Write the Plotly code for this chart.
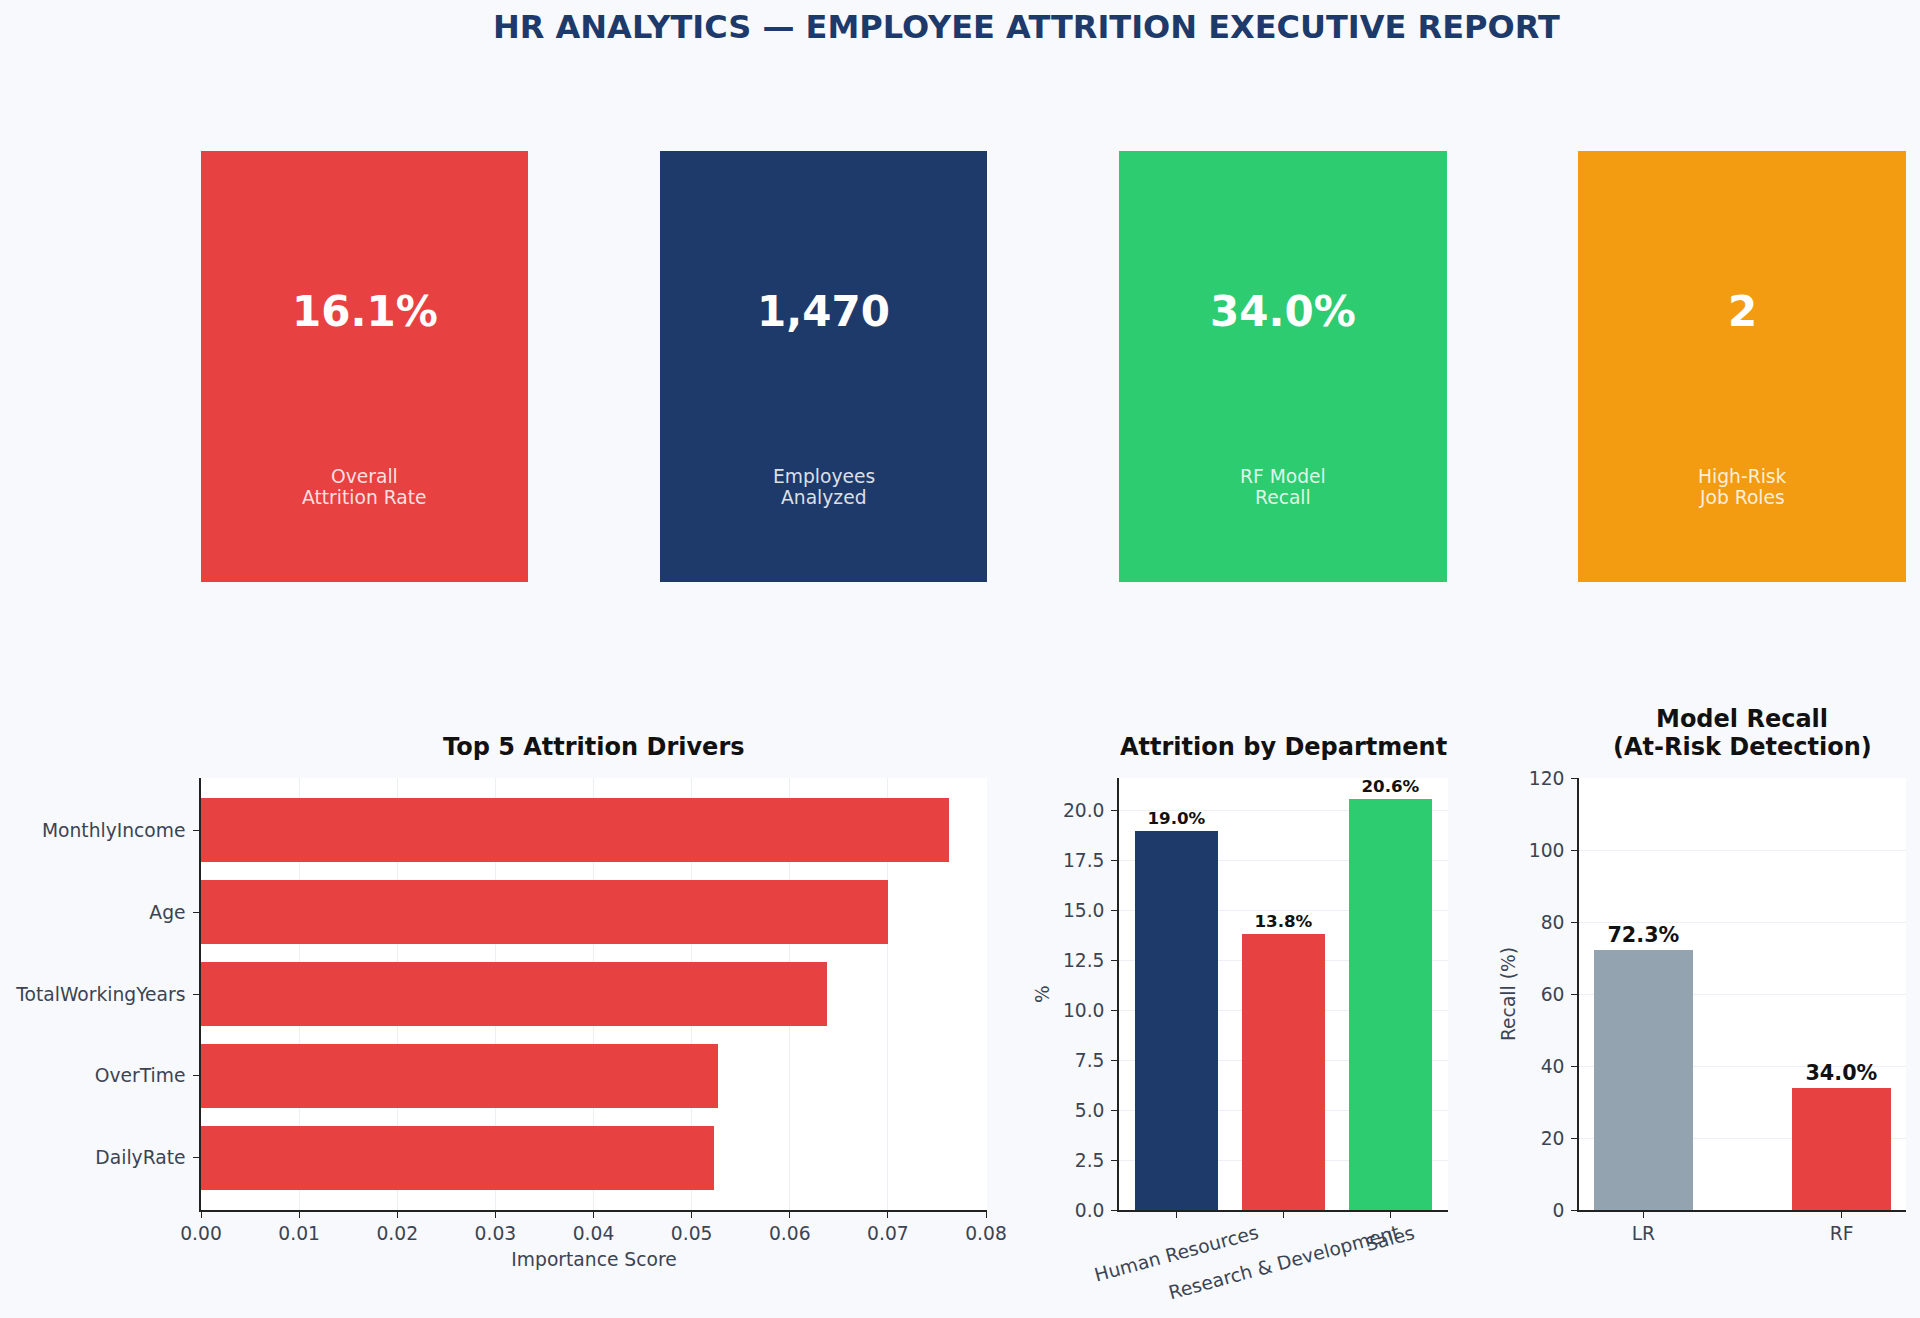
import plotly.graph_objects as go

W, H = 1920, 1318

# KPI cards
kpi_values = ["16.1%", "1,470", "34.0%", "2"]
kpi_labels = [("Overall", "Attrition Rate"), ("Employees", "Analyzed"),
              ("RF Model", "Recall"), ("High-Risk", "Job Roles")]
kpi_colors = ["#E84142", "#1E3A6B", "#2ECC71", "#F39C12"]

# top drivers (feature importance)
drivers = ["MonthlyIncome", "Age", "TotalWorkingYears", "OverTime", "DailyRate"]
importance = [0.0762, 0.0700, 0.0638, 0.0527, 0.0523]

# attrition by department
departments = ["Human Resources", "Research & Development", "Sales"]
dept_attrition = [19.0, 13.8, 20.6]
dept_colors = ["#1E3A6B", "#E84142", "#2ECC71"]

# model recall
models = ["LR", "RF"]
recall = [72.3, 34.0]
model_colors = ["#94A3B0", "#E84142"]

FONT = "DejaVu Sans"
TICK = dict(family=FONT, size=18.7, color="#3B4453")
GRID = "#ECEFF3"
AXIS = "#222222"


def xdom(a, b):
    return [a / W, b / W]


def ydom(top, bottom):
    return [1 - bottom / H, 1 - top / H]


card_x = [(201, 528), (660, 987), (1119, 1447), (1578, 1906)]
card_y = (151, 582)

fig = go.Figure()

fig.add_trace(go.Bar(
    x=importance, y=drivers, orientation="h", width=0.78,
    marker=dict(color="#E84142", line=dict(width=0)),
    xaxis="x", yaxis="y", showlegend=False,
))
fig.add_trace(go.Bar(
    x=departments, y=dept_attrition, width=0.78,
    marker=dict(color=dept_colors, line=dict(width=0)),
    text=[f"{v:.1f}%" for v in dept_attrition], textposition="outside",
    textfont=dict(family=FONT, size=16.7, color="#111111", weight="bold"),
    constraintext="none", cliponaxis=False,
    xaxis="x2", yaxis="y2", showlegend=False,
))
fig.add_trace(go.Bar(
    x=models, y=recall, width=0.5,
    marker=dict(color=model_colors, line=dict(width=0)),
    text=[f"{v:.1f}%" for v in recall], textposition="outside",
    textfont=dict(family=FONT, size=20.7, color="#111111", weight="bold"),
    constraintext="none", cliponaxis=False,
    xaxis="x3", yaxis="y3", showlegend=False,
))

axis_common = dict(
    showline=True, linecolor=AXIS, linewidth=1.5, ticks="outside", ticklen=6,
    tickcolor=AXIS, tickfont=TICK, zeroline=False, automargin=False,
)
TITLE_FONT = dict(family=FONT, size=18.7, color="#3B4453")

fig.update_layout(
    width=W, height=H, autosize=False,
    margin=dict(l=0, r=0, t=0, b=0, pad=0, autoexpand=False),
    paper_bgcolor="#F7F9FC", plot_bgcolor="#FFFFFF",
    font=dict(family=FONT, color="#3B4453"),
    bargap=0,
    xaxis=dict(domain=xdom(201, 987), anchor="y", range=[0, 0.0801],
               tickvals=[0, 0.01, 0.02, 0.03, 0.04, 0.05, 0.06, 0.07, 0.08],
               tickformat=".2f", showgrid=True, gridcolor=GRID,
               title=dict(text="Importance Score", font=TITLE_FONT, standoff=10),
               **axis_common),
    yaxis=dict(domain=ydom(778, 1210), anchor="x", range=[4.64, -0.64],
               categoryorder="array", categoryarray=drivers, showgrid=False,
               ticklabelstandoff=4, **axis_common),
    xaxis2=dict(domain=xdom(1119, 1448), anchor="y2", range=[-0.54, 2.54],
                categoryorder="array", categoryarray=departments,
                showticklabels=False, showgrid=False, **axis_common),
    yaxis2=dict(domain=ydom(778, 1210), anchor="x2", range=[0, 21.63],
                dtick=2.5, tickformat=".1f", showgrid=True, gridcolor=GRID,
                ticklabelstandoff=3,
                title=dict(text="%", font=TITLE_FONT, standoff=8),
                **axis_common),
    xaxis3=dict(domain=xdom(1579, 1906), anchor="y3", range=[-0.325, 1.325],
                showgrid=False, **axis_common),
    yaxis3=dict(domain=ydom(778, 1210), anchor="x3", range=[0, 120],
                dtick=20, showgrid=True, gridcolor=GRID,
                ticklabelstandoff=3,
                title=dict(text="Recall (%)", font=TITLE_FONT, standoff=8),
                **axis_common),
)

# department tick labels, rotated and centred on their ticks
for d in departments:
    fig.add_annotation(x=d, xref="x2", y=0, yref="y2 domain", yanchor="top",
                       xanchor="center", yshift=-9, text=d, textangle=-15,
                       showarrow=False, font=TICK)

# KPI cards
yc0, yc1 = ydom(*card_y)
for (a, b), val, lab, col in zip(card_x, kpi_values, kpi_labels, kpi_colors):
    x0, x1 = xdom(a, b)
    fig.add_shape(type="rect", xref="paper", yref="paper", x0=x0, x1=x1,
                  y0=yc0, y1=yc1, fillcolor=col, line=dict(width=0), layer="above")
    xm = (x0 + x1) / 2
    fig.add_annotation(x=xm, y=1 - 312 / H, xref="paper", yref="paper",
                       text=val, showarrow=False, xanchor="center", yanchor="middle",
                       font=dict(family=FONT, size=42, color="white", weight="bold"))
    for line, ly in zip(lab, (476, 497)):
        fig.add_annotation(x=xm, y=1 - ly / H, xref="paper", yref="paper",
                           text=line, showarrow=False, xanchor="center", yanchor="middle",
                           font=dict(family=FONT, size=18.7, color="rgba(255,255,255,0.85)"))

# titles
fig.add_annotation(x=1026 / W, y=1 - 27 / H, xref="paper", yref="paper",
                   text="HR ANALYTICS \u2014 EMPLOYEE ATTRITION EXECUTIVE REPORT",
                   showarrow=False, xanchor="center", yanchor="middle",
                   font=dict(family=FONT, size=32, color="#1E3A6B", weight="bold"))

sub_titles = [
    ("Top 5 Attrition Drivers", 594, 747),
    ("Attrition by Department", 1283, 747),
    ("Model Recall", 1742, 719),
    ("(At-Risk Detection)", 1742, 747),
]
for txt, cx, cy in sub_titles:
    fig.add_annotation(x=cx / W, y=1 - cy / H, xref="paper", yref="paper",
                       text=txt, showarrow=False, xanchor="center", yanchor="middle",
                       font=dict(family=FONT, size=24, color="#111111", weight="bold"))

fig.write_html("out.html", config={"displayModeBar": False},
               post_script="document.body.style.margin='0';")
